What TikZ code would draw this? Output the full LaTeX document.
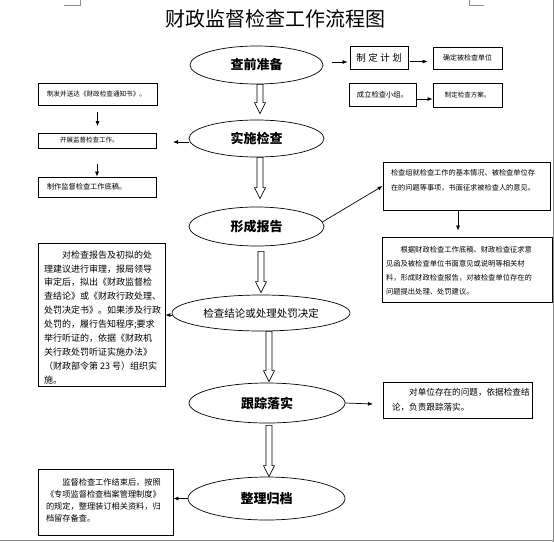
\documentclass[tikz,border=0pt]{standalone}
\usepackage{fontspec}
\setmainfont{Noto Sans CJK SC}
\usetikzlibrary{shapes.geometric,arrows.meta,calc}
\newcommand\txtbox[7]{\parbox[c][#2][t]{#1}{\fontsize{#5}{#6}\selectfont\setlength{\leftskip}{#3}\vspace*{#4}\noindent#7}}
\newcommand\harrow[5]{\draw[hol] let \p1=($(#1.south)+(#3,0)$), \p2=($(#2.north)+(#3,0)$) in
  (\x1-3pt,\y1-#4) -- (\x1-3pt,\y2+#5+11pt) -- (\x1-5.5pt,\y2+#5+11pt) -- (\x1,\y2+#5)
  -- (\x1+5.5pt,\y2+#5+11pt) -- (\x1+3pt,\y2+#5+11pt) -- (\x1+3pt,\y1-#4) -- cycle;}
\begin{document}
\begin{tikzpicture}[x=1pt,y=-1pt,
  bx/.style={draw, line width=0.8pt, inner sep=0pt, rectangle},
  ell/.style={draw, ellipse, line width=0.7pt, inner sep=0pt},
  arr/.style={-{Latex[length=5pt,width=4pt]}, line width=0.7pt},
  hol/.style={draw, line width=0.6pt, fill=white},
  big/.style={font=\bfseries\fontsize{13}{13}\selectfont},
  frame/.style={draw=black!45, line width=0.6pt}]
\useasboundingbox (0,0) rectangle (554,542);
% page frame marks
\draw[frame] (64,5) -- (80,5) -- (80,0);
\draw[frame] (484,5) -- (469,5) -- (469,0);
\draw[frame] (553,0) -- (553,542);
\draw[frame] (0,540.5) -- (554,540.5);

% title
\node (title) at (275,19) {\fontsize{20}{20}\selectfont 财政监督检查工作流程图};

% ellipses
\node[ell, big, minimum width=133pt, minimum height=38pt] (prep) at (256.5,65) {查前准备};
\node[ell, big, minimum width=135pt, minimum height=37pt] (impl) at (256.5,138.5) {实施检查};
\node[ell, big, minimum width=135pt, minimum height=39pt] (rep) at (256.5,226.5) {形成报告};
\node[ell, font=\fontsize{10.5}{10.5}\selectfont, minimum width=178pt, minimum height=36pt] (concl) at (261,313) {检查结论或处理处罚决定};
\node[ell, big, minimum width=156pt, minimum height=40pt] (track) at (267,403) {跟踪落实};
\node[ell, big, minimum width=157pt, minimum height=43pt] (arch) at (266.5,498.5) {整理归档};

% right top boxes
\node[bx, minimum width=58pt, minimum height=23pt, font=\fontsize{9.5}{9.5}\selectfont] (plan) at (379,57.5) {制\hspace{2.5pt}定\hspace{2.5pt}计\hspace{2.5pt}划};
\node[bx, minimum width=69pt, minimum height=22pt, font=\fontsize{7}{7}\selectfont] (confirm) at (467.5,58) {确定被检查单位};
\node[bx, minimum width=67pt, minimum height=23pt, font=\fontsize{7.3}{7.3}\selectfont] (group) at (382.5,94.5) {成立检查小组。};
\node[bx, minimum width=69pt, minimum height=24pt, font=\fontsize{6.5}{6.5}\selectfont] (scheme) at (467.5,95) {制定检查方案。};

% left top boxes
\node[bx] (notice) at (97.5,94) {\txtbox{119pt}{22pt}{9pt}{7.7pt}{6.6}{8}{制发并送达《财政检查通知书》。}};
\node[bx] (carry) at (97,141) {\txtbox{118pt}{15pt}{22pt}{3.75pt}{6.5}{8}{开展监督检查工作。}};
\node[bx] (draft) at (97,187) {\txtbox{118pt}{20pt}{9pt}{6.4pt}{7.2}{8}{制作监督检查工作底稿。}};

% left big boxes
\node[bx] (judge) at (101.5,314.5) {\txtbox{127pt}{143pt}{6pt}{7.5pt}{9}{13.9}{\hspace*{18pt}对检查报告及初拟的处\\理建议进行审理，报局领导\\审定后，拟出《财政监督检\\查结论》或《财政行政处理、\\处罚决定书》。如果涉及行政\\处罚的，履行告知程序;要求\\举行听证的，依据《财政机\\关行政处罚听证实施办法》\\（财政部令第 23 号）组织实\\施。}};
\node[bx] (archbox) at (105.5,502) {\txtbox{135pt}{66pt}{8pt}{9.9pt}{8.2}{11.8}{\hspace*{16.4pt}监督检查工作结束后，按照\\《专项监督检查档案管理制度》\\的规定，整理装订相关资料，归\\档留存备查。}};

% right boxes
\node[bx] (boxA) at (466.5,186) {\txtbox{167pt}{48pt}{8pt}{7.4pt}{7.2}{15}{检查组就检查工作的基本情况、被检查单位存\\在的问题等事项，书面征求被检查人的意见。}};
\node[bx] (boxB) at (467,269.5) {\txtbox{170pt}{65pt}{4pt}{9.35pt}{7.3}{14}{\hspace*{14.6pt}根据财政检查工作底稿、财政检查征求意\\见函及被检查单位书面意见或说明等相关材\\料，形成财政检查报告，对被检查单位存在的\\问题提出处理、处罚建议。}};
\node[bx] (boxC) at (457.5,400) {\txtbox{149pt}{36pt}{9pt}{6.7pt}{8.6}{15}{\hspace*{17.2pt}对单位存在的问题，依据检查结\\论，负责跟踪落实。}};

% hollow arrows
\harrow{prep}{impl}{3.5}{0pt}{6pt}
\harrow{impl}{rep}{3.5}{0pt}{8pt}
\harrow{rep}{concl}{4.5}{5pt}{2pt}
\harrow{concl}{track}{8}{0pt}{1pt}
\harrow{track}{arch}{2}{2pt}{0pt}

% connectors
\coordinate (p0) at (332,62);
\draw[arr, shorten >=2pt] (p0) -- (p0 -| plan.west);
\draw[arr, shorten >=5pt, shorten <=2pt] ([yshift=-4pt]plan.east) -- ([yshift=-4pt]plan.east -| confirm.west);
\draw[arr] ([yshift=-4.5pt]group.east) -- ([yshift=-4.5pt]group.east -| scheme.west);
\draw[arr, shorten <=7pt, shorten >=7pt] (notice.south) -- (notice.south |- carry.north);
\draw[arr, shorten <=15pt] (carry.south) -- (carry.south |- draft.north);
\coordinate (i0) at (173,142);
\draw[arr] ([yshift=-3.5pt]impl.west) -- (i0);
\draw[arr] (rep.4) -- (boxA.west);
\draw[arr, shorten >=6pt] ([xshift=-8.5pt]boxA.south) -- ([xshift=-8.5pt]boxA.south |- boxB.north);
\draw[arr] ([yshift=-2pt]concl.west) -- ([yshift=-2pt]concl.west -| judge.east);
\coordinate (t0) at (373,404);
\draw[arr] (track.east) -- (t0);
\draw[arr] (arch.west) -- (arch.west -| archbox.east);
\end{tikzpicture}
\end{document}
